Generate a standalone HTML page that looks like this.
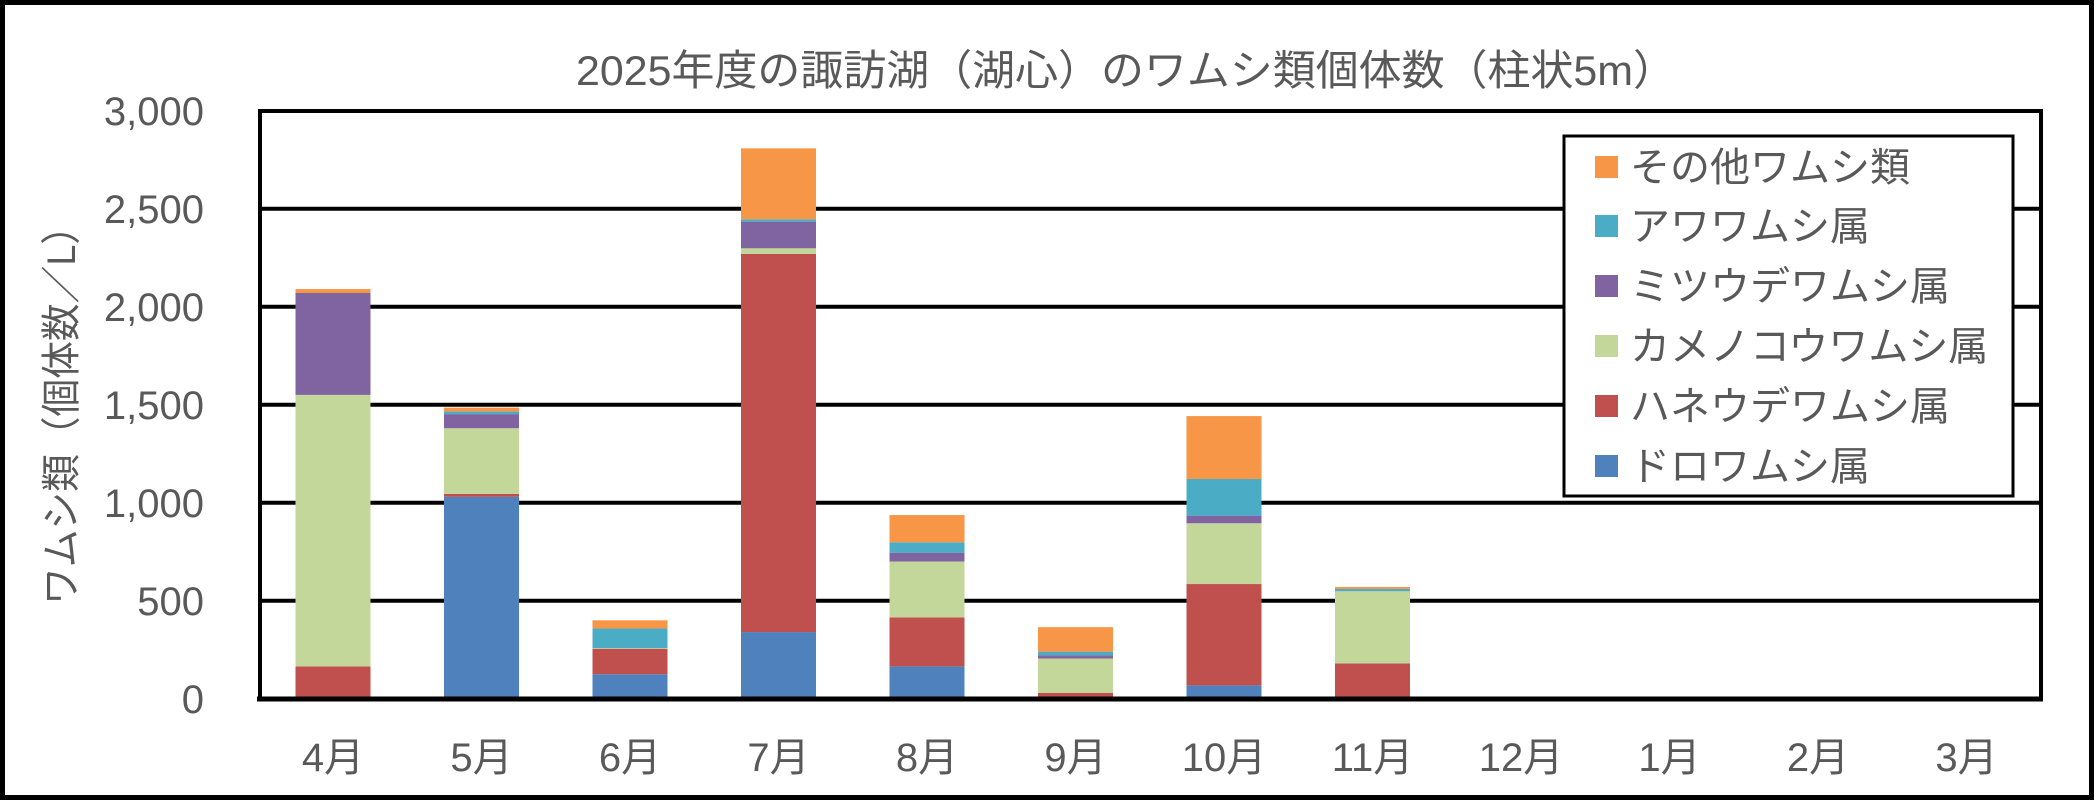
<!DOCTYPE html>
<html><head><meta charset="utf-8"><style>
html,body{margin:0;padding:0;background:#fff;}
svg{display:block;}
text{font-family:"Liberation Sans","Noto Sans CJK JP",sans-serif;fill:#595959;}
</style></head><body>
<svg width="2094" height="800" viewBox="0 0 2094 800" xmlns="http://www.w3.org/2000/svg">
<rect x="2.5" y="2.5" width="2089" height="795" fill="#fff" stroke="#000" stroke-width="5"/>
<text x="1126" y="85" font-size="42" text-anchor="middle" textLength="1100" lengthAdjust="spacingAndGlyphs">2025年度の諏訪湖（湖心）のワムシ類個体数（柱状5m）</text>
<g stroke="#000" stroke-width="4">
<line x1="259" y1="208.7" x2="2042" y2="208.7"/>
<line x1="259" y1="306.7" x2="2042" y2="306.7"/>
<line x1="259" y1="404.7" x2="2042" y2="404.7"/>
<line x1="259" y1="502.7" x2="2042" y2="502.7"/>
<line x1="259" y1="600.7" x2="2042" y2="600.7"/>
</g>
<g>
<rect x="295.5" y="666.36" width="75" height="32.34" fill="#C0504D"/>
<rect x="295.5" y="394.9" width="75" height="271.46" fill="#C4D79B"/>
<rect x="295.5" y="293.0" width="75" height="101.9" fill="#8064A2"/>
<rect x="295.5" y="289.06" width="75" height="3.94" fill="#F79646"/>

<rect x="444" y="496.82" width="75" height="201.88" fill="#4F81BD"/>
<rect x="444" y="493.88" width="75" height="2.94" fill="#C0504D"/>
<rect x="444" y="428.22" width="75" height="65.66" fill="#C4D79B"/>
<rect x="444" y="414.11" width="75" height="14.11" fill="#8064A2"/>
<rect x="444" y="411.56" width="75" height="2.55" fill="#4BACC6"/>
<rect x="444" y="407.64" width="75" height="3.92" fill="#F79646"/>

<rect x="592.5" y="674.2" width="75" height="24.5" fill="#4F81BD"/>
<rect x="592.5" y="648.72" width="75" height="25.48" fill="#C0504D"/>
<rect x="592.5" y="648.13" width="75" height="0.6" fill="#C4D79B"/>
<rect x="592.5" y="628.53" width="75" height="19.6" fill="#4BACC6"/>
<rect x="592.5" y="620.3" width="75" height="8.23" fill="#F79646"/>

<rect x="741" y="632.06" width="75" height="66.64" fill="#4F81BD"/>
<rect x="741" y="253.98" width="75" height="378.08" fill="#C0504D"/>
<rect x="741" y="248.29" width="75" height="5.69" fill="#C4D79B"/>
<rect x="741" y="221.64" width="75" height="26.65" fill="#8064A2"/>
<rect x="741" y="219.28" width="75" height="2.36" fill="#4BACC6"/>
<rect x="741" y="148.33" width="75" height="70.95" fill="#F79646"/>

<rect x="889.5" y="666.36" width="75" height="32.34" fill="#4F81BD"/>
<rect x="889.5" y="617.36" width="75" height="49" fill="#C0504D"/>
<rect x="889.5" y="561.5" width="75" height="55.86" fill="#C4D79B"/>
<rect x="889.5" y="552.68" width="75" height="8.82" fill="#8064A2"/>
<rect x="889.5" y="542.29" width="75" height="10.39" fill="#4BACC6"/>
<rect x="889.5" y="515.05" width="75" height="27.24" fill="#F79646"/>

<rect x="1038" y="692.82" width="75" height="5.88" fill="#C0504D"/>
<rect x="1038" y="658.52" width="75" height="34.3" fill="#C4D79B"/>
<rect x="1038" y="655.19" width="75" height="3.33" fill="#8064A2"/>
<rect x="1038" y="651.66" width="75" height="3.53" fill="#4BACC6"/>
<rect x="1038" y="627.16" width="75" height="24.5" fill="#F79646"/>

<rect x="1186.5" y="685.37" width="75" height="13.33" fill="#4F81BD"/>
<rect x="1186.5" y="584.04" width="75" height="101.33" fill="#C0504D"/>
<rect x="1186.5" y="523.28" width="75" height="60.76" fill="#C4D79B"/>
<rect x="1186.5" y="515.64" width="75" height="7.64" fill="#8064A2"/>
<rect x="1186.5" y="478.98" width="75" height="36.66" fill="#4BACC6"/>
<rect x="1186.5" y="416.07" width="75" height="62.91" fill="#F79646"/>

<rect x="1335" y="663.42" width="75" height="35.28" fill="#C0504D"/>
<rect x="1335" y="591.29" width="75" height="72.13" fill="#C4D79B"/>
<rect x="1335" y="588.94" width="75" height="2.35" fill="#4BACC6"/>
<rect x="1335" y="586.98" width="75" height="1.96" fill="#F79646"/>
</g>
<rect x="260" y="111" width="1781" height="587.7" fill="none" stroke="#000" stroke-width="4"/>
<line x1="257" y1="699" x2="2043" y2="699" stroke="#000" stroke-width="5"/>
<g font-size="40" text-anchor="end">
<text x="204" y="125">3,000</text>
<text x="204" y="223">2,500</text>
<text x="204" y="321">2,000</text>
<text x="204" y="419">1,500</text>
<text x="204" y="517">1,000</text>
<text x="204" y="615">500</text>
<text x="204" y="713">0</text>
</g>
<text transform="translate(75,406) rotate(-90)" font-size="40" text-anchor="middle" textLength="398" lengthAdjust="spacingAndGlyphs">ワムシ類（個体数／L）</text>
<g font-size="40" text-anchor="middle">
<text x="333" y="771">4月</text><text x="481.5" y="771">5月</text><text x="630" y="771">6月</text>
<text x="778.5" y="771">7月</text><text x="927" y="771">8月</text><text x="1075.5" y="771">9月</text>
<text x="1224" y="771">10月</text><text x="1372.5" y="771">11月</text><text x="1521" y="771">12月</text>
<text x="1669.5" y="771">1月</text><text x="1818" y="771">2月</text><text x="1966.5" y="771">3月</text>
</g>
<rect x="1564" y="136" width="449" height="360" fill="#fff" stroke="#000" stroke-width="3"/>
<g font-size="40">
<rect x="1595" y="156" width="23" height="22" fill="#F79646"/><text x="1630" y="181">その他ワムシ類</text>
<rect x="1595" y="215" width="23" height="22" fill="#4BACC6"/><text x="1630" y="240">アワワムシ属</text>
<rect x="1595" y="275" width="23" height="22" fill="#8064A2"/><text x="1630" y="300">ミツウデワムシ属</text>
<rect x="1595" y="335" width="23" height="22" fill="#C4D79B"/><text x="1630" y="360">カメノコウワムシ属</text>
<rect x="1595" y="395" width="23" height="22" fill="#C0504D"/><text x="1630" y="420">ハネウデワムシ属</text>
<rect x="1595" y="455" width="23" height="22" fill="#4F81BD"/><text x="1630" y="480">ドロワムシ属</text>
</g>
</svg>
</body></html>
